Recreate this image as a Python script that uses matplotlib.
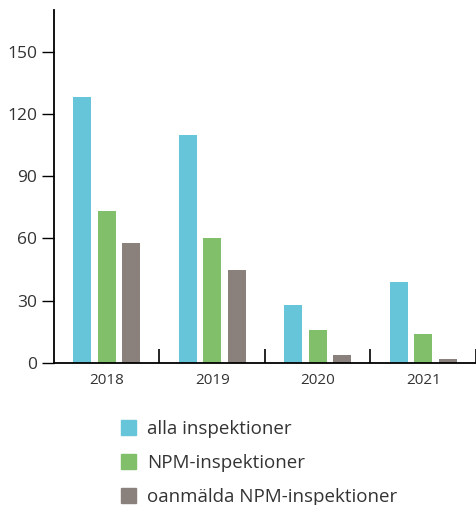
import matplotlib
matplotlib.use("Agg")
import matplotlib.pyplot as plt
import numpy as np
from matplotlib.patches import Patch

years = ['2018', '2019', '2020', '2021']
alla = [128, 110, 28, 39]
npm = [73, 60, 16, 14]
oanmalda = [58, 45, 4, 2]
serier = ['alla inspektioner', 'NPM-inspektioner', 'oanmälda NPM-inspektioner']
farger = ['#67c5d9', '#82bf6a', '#8a817c']
yticks = [0, 30, 60, 90, 120, 150]

plt.rcParams['font.family'] = ['Open Sans', 'DejaVu Sans']
textfarg = '#333333'

fig = plt.figure(figsize=(4.77, 5.05), dpi=100)
ax = fig.add_axes([54 / 477, 1 - 363 / 505, 422 / 477, 353 / 505])

x = np.arange(len(years))
bredd = 0.17
steg = 0.232
for i, (varden, farg) in enumerate(zip([alla, npm, oanmalda], farger)):
    ax.bar(x + (i - 1) * steg, varden, width=bredd, color=farg, label=serier[i])

ax.set_xlim(-0.5, 3.5)
ax.set_ylim(0, 170)
ax.set_yticks(yticks)
ax.set_xticks(x)
ax.set_xticklabels(years)
ax.set_xticks(np.arange(0.5, 4, 1), minor=True)

ax.spines['top'].set_visible(False)
ax.spines['right'].set_visible(False)
ax.spines['left'].set_linewidth(1.3)
ax.spines['bottom'].set_linewidth(1.3)
ax.tick_params(axis='y', length=9, width=1, labelsize=12.5, labelcolor=textfarg, pad=3)
ax.tick_params(axis='x', which='major', length=0, labelsize=11, labelcolor=textfarg, pad=7)
ax.tick_params(axis='x', which='minor', direction='in', length=10, width=1.2)

handles = [Patch(color=f) for f in farger]
fig.legend(handles, serier, loc='upper left', bbox_to_anchor=(104 / 477, 1 - 403 / 505),
           frameon=False, fontsize=13.5, handlelength=0.8, handleheight=0.8,
           handletextpad=0.6, labelspacing=0.86, labelcolor=textfarg)

fig.savefig('out.png', dpi=100)
